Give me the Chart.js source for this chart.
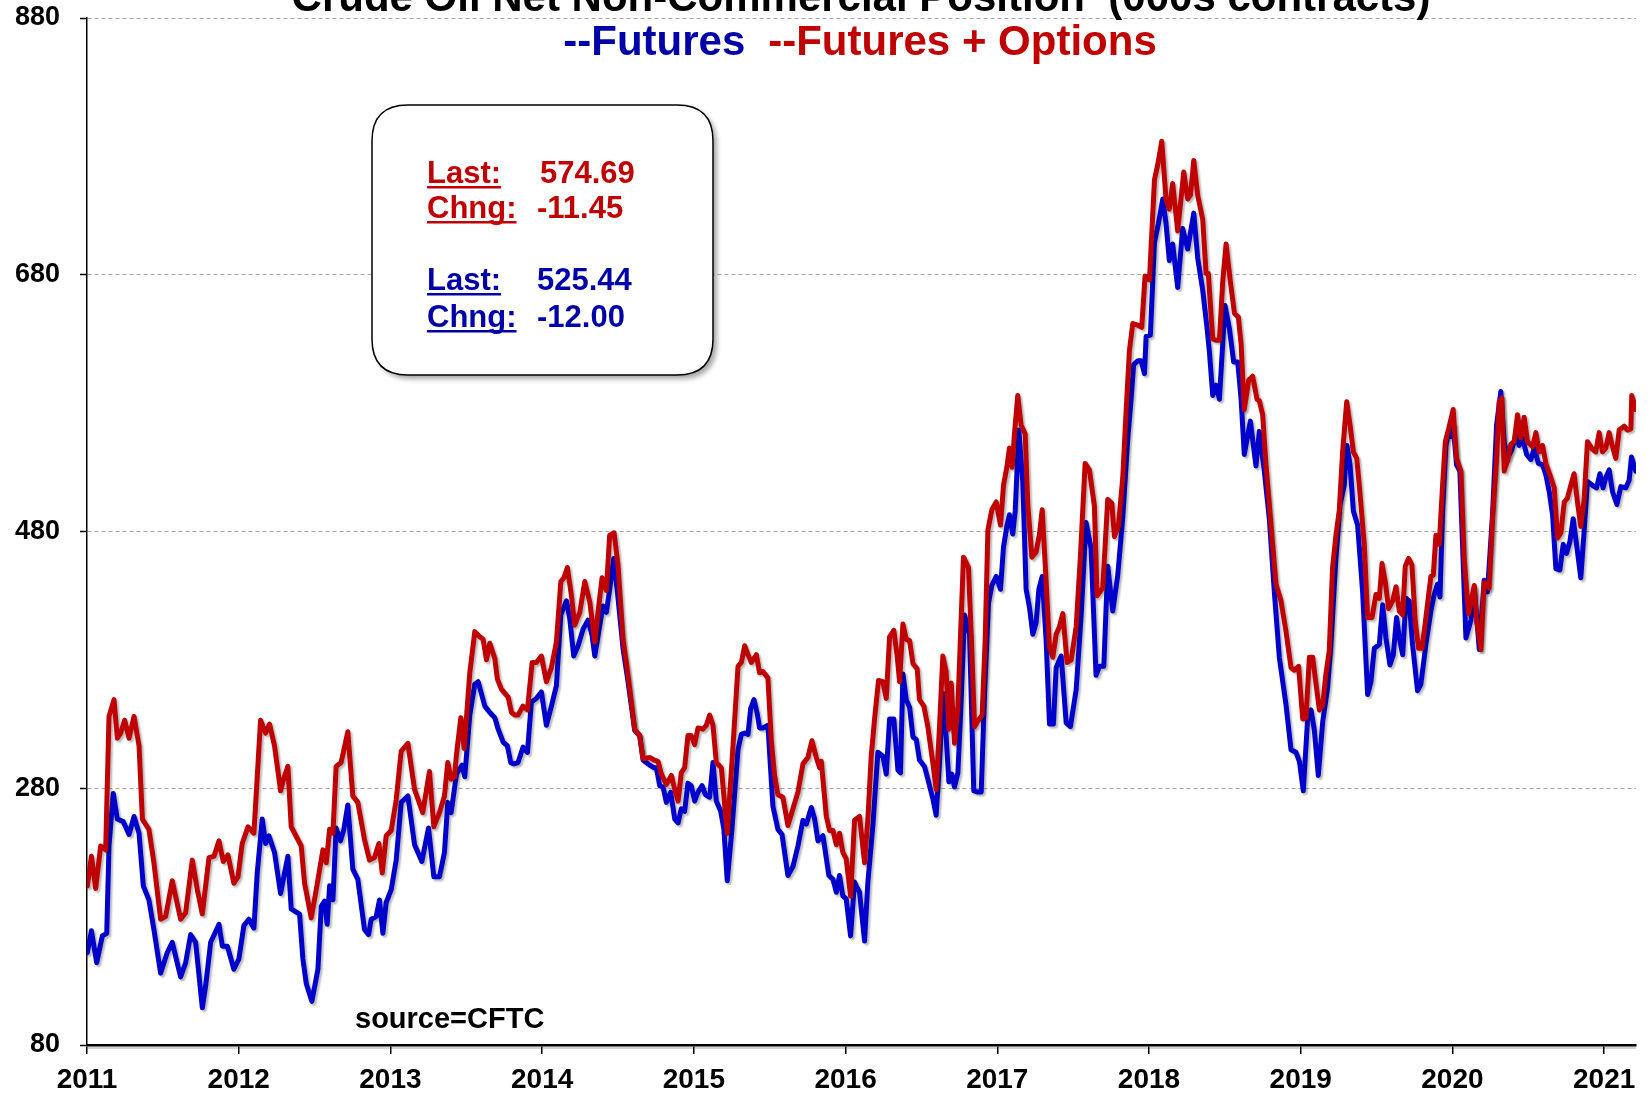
<!DOCTYPE html>
<html>
<head>
<meta charset="utf-8">
<script src="https://cdn.jsdelivr.net/npm/chart.js@4"></script>
<style>
  html, body { margin: 0; padding: 0; background: #fff; }
  canvas { display: block; }
</style>
</head>
<body>
<canvas id="cotChart" width="1650" height="1094"></canvas>
<script>
// Data (years since 2011, net position in 000s of contracts)
const baseYear = 2011;
const yearTicks = [2011, 2012, 2013, 2014, 2015, 2016, 2017, 2018, 2019, 2020, 2021];
const valueTicks = [80, 280, 480, 680, 880];

// Futures + Options (red)
const optT = [0.002,0.029,0.057,0.090,0.123,0.145,0.178,0.200,0.222,0.248,0.277,0.310,0.343,0.365,0.408,0.441,0.485,0.518,0.562,0.617,0.650,0.694,0.727,0.760,0.804,0.837,0.870,0.898,0.929,0.968,0.995,1.023,1.061,1.100,1.122,1.144,1.177,
  1.203,1.236,1.276,1.298,1.324,1.346,1.412,1.434,1.478,1.511,1.555,1.577,1.599,1.621,1.642,1.675,1.719,1.752,1.785,1.829,1.862,1.895,1.924,1.946,1.972,2.005,2.038,2.071,2.115,2.159,2.213,2.257,2.286,2.323,2.356,2.378,2.400,2.422,
  2.435,2.464,2.486,2.523,2.556,2.589,2.611,2.633,2.655,2.688,2.705,2.732,2.754,2.776,2.798,2.820,2.841,2.874,2.903,2.934,2.962,2.995,3.028,3.061,3.094,3.123,3.144,3.166,3.193,3.215,3.248,3.281,3.314,3.347,3.368,3.395,3.423,3.445,3.474,3.500,3.533,3.566,3.610,3.643,3.665,3.709,3.737,
  3.764,3.786,3.819,3.852,3.874,3.896,3.917,3.939,3.961,3.983,4.005,4.027,4.060,4.082,4.104,4.126,4.148,4.181,4.220,4.258,4.291,4.313,4.335,4.357,4.379,4.412,4.433,4.455,4.488,4.510,4.532,4.554,4.587,4.620,4.653,4.686,4.719,4.752,4.778,4.807,4.829,4.840,4.873,4.895,4.917,4.939,4.960,4.982,5.004,5.033,5.059,
  5.070,5.092,5.125,5.147,5.169,5.191,5.217,5.246,5.268,5.290,5.318,5.340,5.356,5.378,5.400,5.422,5.444,5.472,5.487,5.516,5.542,5.575,5.597,5.619,5.641,5.663,5.681,5.696,5.718,5.740,5.758,5.777,5.810,5.828,5.850,5.876,5.900,5.920,5.938,5.964,5.993,6.021,6.041,6.063,6.080,6.098,6.113,6.135,6.157,6.184,6.201,6.228,6.256,6.278,6.296,6.322,6.344,6.366,
  6.388,6.410,6.432,6.460,6.487,6.520,6.548,6.579,6.607,6.640,6.658,6.695,6.728,6.755,6.772,6.798,6.827,6.849,6.871,6.893,6.921,6.952,6.974,7.003,7.036,7.058,7.084,7.112,7.134,7.156,7.189,7.229,7.255,7.273,7.295,7.321,7.354,7.376,7.391,7.420,7.442,7.464,7.486,7.508,7.536,7.563,7.589,7.607,7.628,7.657,7.683,7.712,
  7.727,7.749,7.771,7.804,7.837,7.870,7.903,7.936,7.958,7.986,8.013,8.035,8.057,8.079,8.101,8.123,8.145,8.166,8.188,8.210,8.232,8.254,8.276,8.303,8.325,8.347,8.369,8.386,8.419,8.441,8.470,8.496,8.518,8.536,8.557,8.579,8.606,8.628,8.650,8.672,8.689,8.711,8.733,8.755,8.777,8.799,8.825,8.858,8.874,8.891,8.913,8.935,8.953,8.975,
  9.005,9.027,9.056,9.078,9.106,9.144,9.159,9.188,9.209,9.242,9.264,9.291,9.308,9.326,9.341,9.363,9.385,9.407,9.429,9.451,9.473,9.495,9.528,9.550,9.572,9.594,9.616,9.649,9.671,9.693,9.715,9.737,9.758,9.780,9.802,9.824,9.846,9.868,9.890,9.923,9.945,9.967,9.989,10.011,10.033,10.055,10.077,10.099,10.132,10.154,10.176,10.182,10.209];
const optValues = [204,227,202,235,232,336,349,319,323,333,319,336,313,256,248,222,178,180,208,178,183,224,201,182,226,227,239,223,228,206,211,237,250,245,289,333,323,
  330,313,278,288,297,250,235,206,179,201,232,222,248,245,297,300,324,274,269,240,224,226,237,214,243,247,271,309,315,279,261,293,250,261,274,300,287,289,
  306,335,311,370,402,398,396,380,393,381,365,357,354,351,339,337,337,344,341,378,378,383,363,374,394,441,444,452,430,407,417,441,425,394,417,444,434,477,479,454,396,368,326,321,303,304,302,
  301,291,283,290,279,270,292,296,321,321,314,327,326,329,337,329,300,296,245,313,375,378,391,384,378,384,370,371,366,318,290,275,273,251,264,277,299,304,317,304,296,301,258,247,247,236,245,230,225,196,255,
  256,258,222,256,305,334,364,363,350,398,403,383,363,408,396,395,377,373,349,344,328,300,279,328,383,371,326,362,315,343,400,460,452,400,328,333,337,395,481,497,503,485,516,530,545,530,556,586,563,556,501,460,464,478,497,441,390,382,
  400,406,416,378,380,406,461,533,528,500,430,436,505,502,476,484,522,574,621,642,641,639,679,676,754,766,784,739,731,751,714,760,739,742,769,742,723,681,681,630,629,629,675,704,675,650,647,626,575,598,601,583,
  582,571,532,485,439,426,402,374,372,375,334,335,382,382,361,341,345,369,387,452,477,496,542,581,563,542,537,516,470,413,413,431,428,455,441,420,426,437,418,415,453,459,454,410,389,389,413,445,446,477,470,516,550,560,
  575,537,527,458,416,438,411,388,440,436,488,537,581,584,527,535,548,550,571,553,569,550,546,557,542,547,533,522,514,475,479,503,506,516,525,503,484,505,550,544,542,557,542,545,557,546,537,559,562,559,560,586,575];

// Futures only (blue)
const futT = [0.002,0.029,0.064,0.101,0.130,0.145,0.173,0.200,0.239,0.277,0.310,0.343,0.371,0.408,0.441,0.485,0.529,0.562,0.617,0.650,0.683,0.716,0.760,0.782,0.815,0.870,0.892,0.925,0.968,1.001,1.034,1.067,1.100,1.122,1.155,1.177,1.199,
  1.236,1.276,1.302,1.324,1.346,1.401,1.423,1.445,1.482,1.522,1.544,1.566,1.583,1.599,1.621,1.642,1.671,1.693,1.719,1.752,1.785,1.829,1.856,1.873,1.906,1.928,1.950,1.972,2.005,2.038,2.071,2.115,2.159,2.207,2.251,2.286,2.323,2.356,2.378,2.400,
  2.435,2.473,2.490,2.523,2.556,2.578,2.622,2.655,2.688,2.710,2.743,2.771,2.793,2.815,2.841,2.874,2.903,2.929,2.962,2.995,3.028,3.061,3.094,3.123,3.160,3.182,3.208,3.237,3.270,3.303,3.329,3.347,3.373,3.401,3.423,3.445,3.472,3.500,3.533,3.566,3.610,3.643,3.665,3.709,3.737,
  3.753,3.775,3.797,3.819,3.847,3.874,3.896,3.917,3.939,3.961,3.983,4.005,4.027,4.054,4.076,4.104,4.126,4.148,4.177,4.198,4.220,4.251,4.291,4.313,4.335,4.357,4.374,4.396,4.418,4.433,4.455,4.488,4.521,4.554,4.581,4.620,4.653,4.686,4.719,4.741,4.774,4.796,4.818,4.851,4.890,4.917,4.939,4.960,4.982,5.004,5.033,5.059,
  5.070,5.092,5.125,5.147,5.180,5.213,5.246,5.268,5.290,5.318,5.345,5.362,5.378,5.400,5.422,5.444,5.466,5.487,5.520,5.547,5.575,5.597,5.619,5.641,5.663,5.681,5.700,5.718,5.740,5.758,5.784,5.817,5.845,5.872,5.894,5.916,5.942,5.964,5.993,6.021,6.041,6.063,6.080,6.102,6.118,6.142,6.168,6.190,6.212,6.234,6.256,6.274,6.296,6.322,6.344,6.370,
  6.388,6.421,6.454,6.482,6.520,6.553,6.585,6.618,6.651,6.673,6.702,6.728,6.761,6.794,6.827,6.860,6.882,6.899,6.926,6.948,6.970,6.981,7.009,7.036,7.062,7.091,7.112,7.134,7.156,7.189,7.222,7.255,7.295,7.321,7.354,7.383,7.398,7.420,7.442,7.464,7.501,7.530,7.558,7.585,7.607,7.628,7.668,7.705,
  7.727,7.760,7.793,7.826,7.859,7.903,7.936,7.969,7.991,8.017,8.046,8.068,8.090,8.116,8.145,8.177,8.199,8.232,8.259,8.287,8.305,8.325,8.347,8.375,8.408,8.441,8.463,8.485,8.518,8.540,8.562,8.588,8.610,8.632,8.650,8.672,8.694,8.715,8.737,8.770,8.792,8.825,8.858,8.880,8.902,8.918,8.935,8.957,8.975,
  8.990,9.005,9.027,9.049,9.089,9.122,9.144,9.177,9.209,9.231,9.264,9.291,9.319,9.341,9.363,9.392,9.418,9.440,9.462,9.489,9.517,9.539,9.567,9.594,9.616,9.638,9.660,9.682,9.708,9.730,9.752,9.774,9.796,9.818,9.846,9.868,9.890,9.923,9.950,9.972,9.993,10.011,10.033,10.055,10.084,10.110,10.143,10.165,10.180,10.209];
const futValues = [152,169,144,165,167,235,276,256,254,244,258,245,204,193,170,136,152,160,133,144,166,160,109,126,160,174,157,157,139,147,173,178,171,214,256,237,243,
  230,198,214,227,186,182,147,128,114,139,188,192,174,204,193,249,239,248,267,217,209,170,166,178,180,193,167,191,201,224,269,274,236,223,249,211,211,230,269,261,
  291,298,289,337,361,363,344,339,335,326,316,313,300,299,300,312,308,347,350,355,329,344,360,415,426,412,383,391,404,411,399,383,402,422,417,435,459,428,389,363,325,321,302,298,296,
  296,282,281,269,277,256,253,264,262,284,282,270,277,282,275,273,300,270,262,248,208,248,310,322,323,322,342,349,338,327,327,329,266,248,244,212,219,235,255,252,265,256,239,243,212,209,199,212,196,194,165,207,
  204,199,161,207,251,308,305,291,334,334,294,292,369,349,343,320,318,302,297,285,272,259,300,354,320,285,291,281,292,337,415,400,278,277,277,354,424,438,445,435,468,484,493,478,496,559,519,435,421,400,409,435,445,395,330,330,
  374,383,331,328,357,415,487,467,368,375,375,453,418,446,491,552,583,610,613,613,603,632,633,705,720,739,720,691,704,670,716,700,728,693,668,638,620,586,594,583,656,638,612,612,583,540,566,531,
  558,527,490,433,382,345,310,308,301,278,335,341,325,290,332,358,392,459,501,516,547,532,496,485,433,353,363,389,392,423,397,376,384,413,397,384,428,426,392,356,361,392,418,431,439,429,496,547,558,
  554,563,532,527,397,411,436,388,442,433,493,563,589,550,537,544,555,547,553,540,536,545,533,532,524,511,493,451,450,470,463,472,490,470,444,480,519,516,514,525,514,522,528,511,501,515,514,520,538,527];

const lastBox = {
  opt: { last: '574.69', chng: '-11.45' },
  fut: { last: '525.44', chng: '-12.00' }
};

const RED = '#c00000';
const BLUE = '#0000cc';
const BLUE_TEXT = '#0000a8';
const FONT = '"Liberation Sans", Arial, sans-serif';

function toPoints(ts, vs) {
  return ts.map((t, i) => ({ x: baseYear + t, y: vs[i] }));
}

// soft shadow under the two lines
const lineShadow = {
  id: 'lineShadow',
  beforeDatasetsDraw(chart) {
    const ctx = chart.ctx;
    ctx.save();
    ctx.shadowColor = 'rgba(0,0,0,0.28)';
    ctx.shadowOffsetX = 2;
    ctx.shadowOffsetY = 2;
    ctx.shadowBlur = 2;
  },
  afterDatasetsDraw(chart) {
    chart.ctx.restore();
  }
};

function roundRect(ctx, x, y, w, h, r) {
  ctx.beginPath();
  ctx.moveTo(x + r, y);
  ctx.lineTo(x + w - r, y);
  ctx.quadraticCurveTo(x + w, y, x + w, y + r);
  ctx.lineTo(x + w, y + h - r);
  ctx.quadraticCurveTo(x + w, y + h, x + w - r, y + h);
  ctx.lineTo(x + r, y + h);
  ctx.quadraticCurveTo(x, y + h, x, y + h - r);
  ctx.lineTo(x, y + r);
  ctx.quadraticCurveTo(x, y, x + r, y);
  ctx.closePath();
}

function underlined(ctx, text, x, y, color) {
  ctx.fillStyle = color;
  ctx.fillText(text, x, y);
  const w = ctx.measureText(text).width;
  ctx.fillRect(x, y + 3, w, 2.5);
}

const decorations = {
  id: 'decorations',
  afterDraw(chart) {
    const ctx = chart.ctx;
    ctx.save();

    // title (top line runs off the canvas like the original)
    ctx.textBaseline = 'alphabetic';
    ctx.textAlign = 'center';
    ctx.fillStyle = '#000';
    ctx.font = 'bold 42px ' + FONT;
    ctx.fillText("Crude Oil Net Non-Commercial Position  (000s contracts)", 861, 11);

    ctx.textAlign = 'left';
    const a = '--Futures', b = '--Futures + Options', gap = 23;
    const wa = ctx.measureText(a).width, wb = ctx.measureText(b).width;
    const sx = 860 - (wa + gap + wb) / 2;
    ctx.fillStyle = BLUE_TEXT;
    ctx.fillText(a, sx, 55);
    ctx.fillStyle = RED;
    ctx.fillText(b, sx + wa + gap, 55);

    // info box
    ctx.save();
    ctx.shadowColor = 'rgba(0,0,0,0.35)';
    ctx.shadowOffsetX = 4;
    ctx.shadowOffsetY = 4;
    ctx.shadowBlur = 5;
    roundRect(ctx, 372, 105, 341, 270, 36);
    ctx.fillStyle = '#fff';
    ctx.fill();
    ctx.restore();
    roundRect(ctx, 372, 105, 341, 270, 36);
    ctx.lineWidth = 1.5;
    ctx.strokeStyle = '#000';
    ctx.stroke();

    ctx.font = 'bold 31px ' + FONT;
    underlined(ctx, 'Last:', 427, 183, RED);
    ctx.fillText(lastBox.opt.last, 540, 183);
    underlined(ctx, 'Chng:', 427, 218, RED);
    ctx.fillText(lastBox.opt.chng, 537, 218);
    underlined(ctx, 'Last:', 427, 290, BLUE_TEXT);
    ctx.fillText(lastBox.fut.last, 537, 290);
    underlined(ctx, 'Chng:', 427, 327, BLUE_TEXT);
    ctx.fillText(lastBox.fut.chng, 537, 327);

    // source note
    ctx.fillStyle = '#000';
    ctx.font = 'bold 29px ' + FONT;
    ctx.fillText('source=CFTC', 355, 1028);

    // faint shadow below the x axis line
    const area = chart.chartArea;
    ctx.fillStyle = 'rgba(0,0,0,0.18)';
    ctx.fillRect(area.left, area.bottom + 2, area.right - area.left, 2);

    ctx.restore();
  }
};

const ctx = document.getElementById('cotChart').getContext('2d');
new Chart(ctx, {
  type: 'line',
  data: {
    datasets: [
      {
        label: 'Futures + Options',
        data: toPoints(optT, optValues),
        borderColor: RED,
        borderWidth: 5,
        borderJoinStyle: 'round',
        borderCapStyle: 'round',
        pointRadius: 0,
        tension: 0,
        fill: false
      },
      {
        label: 'Futures',
        data: toPoints(futT, futValues),
        borderColor: BLUE,
        borderWidth: 5,
        borderJoinStyle: 'round',
        borderCapStyle: 'round',
        pointRadius: 0,
        tension: 0,
        fill: false
      }
    ]
  },
  options: {
    responsive: false,
    animation: false,
    events: [],
    layout: { padding: { top: 18, right: 14, left: 0, bottom: 0 } },
    plugins: {
      legend: { display: false },
      tooltip: { enabled: false }
    },
    scales: {
      x: {
        type: 'linear',
        min: 2011,
        max: 2021.21,
        afterFit: function (scale) { scale.height = 49; },
        afterBuildTicks: function (scale) {
          scale.ticks = yearTicks.map(v => ({ value: v }));
        },
        ticks: {
          autoSkip: false,
          maxRotation: 0,
          padding: 9,
          color: '#000',
          font: { family: FONT, size: 28, weight: 'bold' },
          callback: v => String(v)
        },
        grid: { drawOnChartArea: false, tickLength: 9, tickColor: '#000', lineWidth: 1.5 },
        border: { color: '#000', width: 2.5 }
      },
      y: {
        min: 80,
        max: 880,
        afterFit: function (scale) {
          scale.width = 87;
          scale.paddingTop = 0;
          scale.paddingBottom = 0;
        },
        afterBuildTicks: function (scale) {
          scale.ticks = valueTicks.map(v => ({ value: v }));
        },
        ticks: {
          padding: 20,
          color: '#000',
          font: { family: FONT, size: 27, weight: 'bold' },
          callback: v => String(v)
        },
        grid: {
          color: c => (c.tick && c.tick.value === 80) ? 'rgba(0,0,0,0)' : '#a6a6a6',
          lineWidth: 1,
          tickLength: 7,
          tickColor: '#000',
          tickWidth: 1.5,
          tickBorderDash: []
        },
        border: { color: '#000', width: 1.5, dash: [4, 3] }
      }
    }
  },
  plugins: [lineShadow, decorations]
});
</script>
</body>
</html>
